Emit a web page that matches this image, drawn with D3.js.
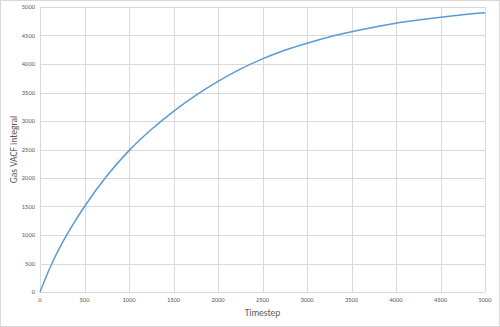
<!DOCTYPE html>
<html><head><meta charset="utf-8">
<script src="https://cdn.jsdelivr.net/npm/d3@7"></script>
<style>body{margin:0;background:#fff}svg{display:block}</style>
</head><body>
<svg id="c" width="500" height="327"></svg>
<script>
const timesteps = [0,125,250,375,500,750,1000,1250,1500,1750,2000,2250,2500,2750,3000,3250,3500,3750,4000,4250,4500,4750,5000];
const vacfIntegral = [0,470,860,1195,1500,2035,2480,2850,3170,3450,3695,3910,4090,4240,4365,4475,4565,4645,4715,4770,4820,4865,4900];
const xTicks = [0,500,1000,1500,2000,2500,3000,3500,4000,4500,5000];
const yTicks = [0,500,1000,1500,2000,2500,3000,3500,4000,4500,5000];
const xTitle = "Timestep";
const yTitle = "Gas VACF integral";

const svg = d3.select("#c");
const W = 500, H = 327;
const m = {l:40, r:15, t:7, b:35};
const x = d3.scaleLinear().domain([0,5000]).range([m.l, W-m.r]);
const y = d3.scaleLinear().domain([0,5000]).range([H-m.b, m.t]);

svg.append("rect").attr("x",0.5).attr("y",0.5).attr("width",W-1).attr("height",H-1)
  .attr("fill","#fff").attr("stroke","#d9d9d9");

const g = svg.append("g");
g.selectAll(".hy").data(yTicks).join("line")
  .attr("x1",m.l).attr("x2",W-m.r)
  .attr("y1",d=>Math.round(y(d))+0.5).attr("y2",d=>Math.round(y(d))+0.5)
  .attr("stroke","#d9d9d9").attr("stroke-width",1);
g.selectAll(".vx").data(xTicks).join("line")
  .attr("y1",m.t).attr("y2",H-m.b)
  .attr("x1",d=>Math.round(x(d))+0.5).attr("x2",d=>Math.round(x(d))+0.5)
  .attr("stroke","#d9d9d9").attr("stroke-width",1);

const font = "Carlito, Calibri, 'Liberation Sans Narrow', 'Open Sans', sans-serif";
svg.selectAll(".yl").data(yTicks).join("text")
  .attr("x",m.l-5).attr("y",d=>y(d)).attr("dy","0.35em")
  .attr("text-anchor","end").attr("font-family",font).attr("font-size",6.5)
  .attr("fill","#595959").text(d=>d);
svg.selectAll(".xl").data(xTicks).join("text")
  .attr("x",d=>x(d)).attr("y",H-m.b+8).attr("dy","0.35em")
  .attr("text-anchor","middle").attr("font-family",font).attr("font-size",6.5)
  .attr("fill","#595959").text(d=>d);

svg.append("text").attr("x",(m.l+W-m.r)/2).attr("y",316)
  .attr("text-anchor","middle").attr("font-family",font).attr("font-size",9.5)
  .attr("fill","#595959").text(xTitle);
svg.append("text").attr("transform",`translate(17,${(m.t+H-m.b)/2}) rotate(-90)`)
  .attr("text-anchor","middle").attr("font-family",font).attr("font-size",9.5)
  .attr("fill","#595959").text(yTitle);

const line = d3.line().x((d,i)=>x(timesteps[i])).y(d=>y(d)).curve(d3.curveMonotoneX);
svg.append("path").datum(vacfIntegral).attr("d",line)
  .attr("fill","none").attr("stroke","#5b9bd5").attr("stroke-width",1.5);
</script>
</body></html>
